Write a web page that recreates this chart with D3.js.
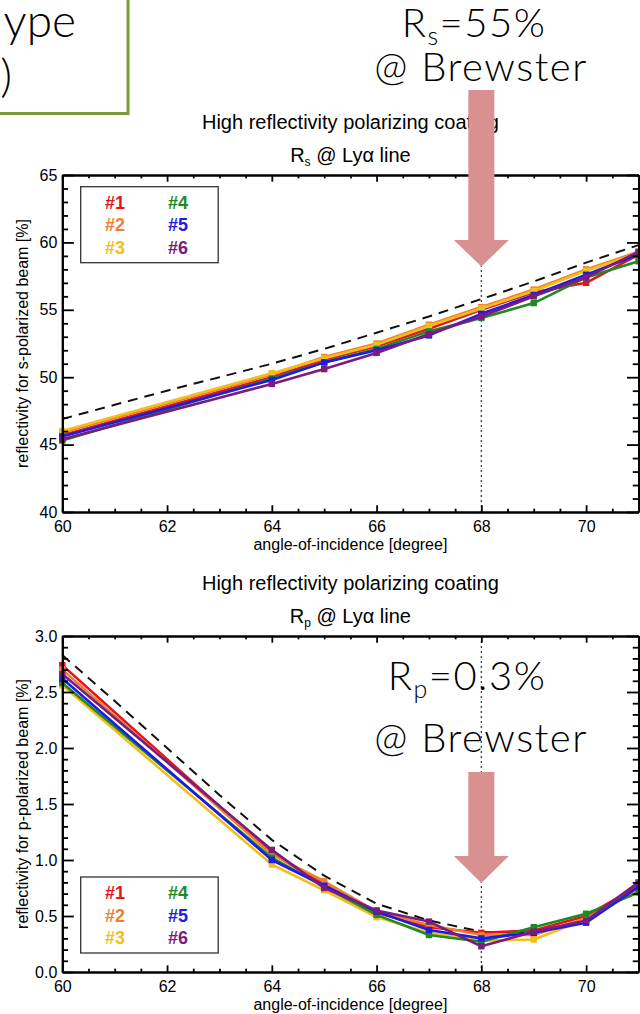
<!DOCTYPE html>
<html><head><meta charset="utf-8">
<script src="https://cdn.jsdelivr.net/npm/d3@7"></script>
<style>
html,body{margin:0;padding:0;background:#fff;}
svg{display:block;}
text{font-family:"Liberation Sans",Arial,Helvetica,sans-serif;}
</style></head>
<body>
<svg id="c" width="640" height="1014"></svg>
<script>
// ---------------- data ----------------
const angles = [60, 64, 65, 66, 67, 68, 69, 70, 71];
const seriesNames = ["#1", "#2", "#3", "#4", "#5", "#6"];
const seriesColors = ["#e3141c", "#ee7f2d", "#f2be1a", "#1f8a24", "#1c1ce6", "#7a1c7e"];
// R_s measured [%]
const rs1 = [45.7, 50.0, 51.3, 52.3, 53.6, 55.0, 56.3, 57.0, 59.1];
const rs2 = [45.9, 50.2, 51.5, 52.5, 53.9, 55.2, 56.5, 58.0, 59.3];
const rs3 = [46.0, 50.3, 51.4, 52.4, 53.8, 55.1, 56.4, 57.9, 59.2];
const rs4 = [45.3, 49.9, 51.1, 52.1, 53.4, 54.4, 55.5, 57.4, 58.6];
const rs5 = [45.6, 49.8, 51.1, 52.0, 53.1, 54.7, 56.1, 57.6, 59.1];
const rs6 = [45.4, 49.5, 50.6, 51.8, 53.2, 54.5, 56.0, 57.4, 59.3];
// R_p measured [%]
const rp1 = [2.74, 1.06, 0.78, 0.53, 0.40, 0.35, 0.37, 0.50, 0.77];
const rp2 = [2.70, 1.05, 0.81, 0.54, 0.42, 0.33, 0.33, 0.48, 0.74];
const rp3 = [2.56, 0.96, 0.73, 0.49, 0.35, 0.28, 0.29, 0.47, 0.73];
const rp4 = [2.58, 1.02, 0.76, 0.51, 0.33, 0.27, 0.40, 0.52, 0.71];
const rp5 = [2.62, 1.00, 0.77, 0.54, 0.375, 0.30, 0.35, 0.44, 0.76];
const rp6 = [2.66, 1.09, 0.75, 0.55, 0.45, 0.23, 0.36, 0.46, 0.80];
// theoretical curves (dashed)
const thAngles = [60, 61, 62, 63, 64, 65, 66, 67, 68, 69, 70, 71];
const rsTheory = [46.9, 47.95, 49.0, 50.0, 51.0, 52.1, 53.3, 54.5, 55.8, 57.1, 58.5, 59.8];
const rpTheory = [2.83, 2.42, 2.0, 1.58, 1.18, 0.86, 0.61, 0.46, 0.36, 0.35, 0.47, 0.78];
// axes
const xDomain = [60, 71];
const xMajor = [60, 62, 64, 66, 68, 70];
const rsDomain = [40, 65];
const rsMajor = [40, 45, 50, 55, 60, 65];
const rpDomain = [0, 3];
const rpMajor = [0, 0.5, 1.0, 1.5, 2.0, 2.5, 3.0];
const brewster = 68;

const svg = d3.select("#c");
const L = 62.3, R = 638.5;

function panel(cfg) {
  const g = svg.append("g");
  const x = d3.scaleLinear().domain(xDomain).range([L, R]);
  const y = d3.scaleLinear().domain(cfg.yDomain).range([cfg.bottom, cfg.top]);
  const H = cfg.bottom - cfg.top, W = R - L;
  const xt = 0.02 * H, yt = 0.02 * W;
  const xMinor = d3.range(xDomain[0], xDomain[1] + 1e-9, 0.5).filter(v => !xMajor.includes(v));
  const yMinor = d3.range(cfg.yDomain[0], cfg.yDomain[1] + 1e-9, cfg.yMinorStep)
      .map(v => +v.toFixed(3)).filter(v => !cfg.yMajor.some(m => Math.abs(m - v) < 1e-6));

  // dotted Brewster line
  g.append("line").attr("x1", x(brewster)).attr("x2", x(brewster))
    .attr("y1", cfg.top).attr("y2", cfg.bottom)
    .attr("stroke", "#333").attr("stroke-width", 1.2).attr("stroke-dasharray", "2,3");

  // theory dashed
  const line = d3.line().x(d => x(d[0])).y(d => y(d[1]));
  g.append("path").datum(thAngles.map((a, i) => [a, cfg.theory[i]]))
    .attr("d", line).attr("fill", "none").attr("stroke", "#111")
    .attr("stroke-width", 2).attr("stroke-dasharray", "10,7");

  // measured series
  cfg.series.forEach((s, k) => {
    const pts = angles.map((a, i) => [a, s[i]]);
    g.append("path").datum(pts).attr("d", line).attr("fill", "none")
      .attr("stroke", seriesColors[k]).attr("stroke-width", 2.6).attr("stroke-linejoin", "round");
    g.selectAll(null).data(pts).enter().append("rect")
      .attr("x", d => x(d[0]) - 3.2).attr("y", d => y(d[1]) - 3.2)
      .attr("width", 6.4).attr("height", 6.4).attr("fill", seriesColors[k]);
  });

  // axes
  const ax = (gen, tr) => g.append("g").attr("transform", tr).call(gen);
  const style = sel => {
    sel.selectAll("path.domain").attr("stroke", "#000").attr("stroke-width", 2);
    sel.selectAll(".tick line").attr("stroke", "#000").attr("stroke-width", 1.8);
    sel.selectAll("text").attr("fill", "#000").style("font-size", "16px")
      .style("font-family", "'Liberation Sans',Arial,sans-serif");
  };
  style(ax(d3.axisBottom(x).tickValues(xMajor).tickSizeInner(-xt).tickSizeOuter(0).tickPadding(9).tickFormat(d3.format("d")), `translate(0,${cfg.bottom})`));
  style(ax(d3.axisBottom(x).tickValues(xMinor).tickSizeInner(-xt / 2).tickSizeOuter(0).tickFormat(""), `translate(0,${cfg.bottom})`));
  style(ax(d3.axisTop(x).tickValues(xMajor).tickSizeInner(-xt).tickSizeOuter(0).tickFormat(""), `translate(0,${cfg.top})`));
  style(ax(d3.axisTop(x).tickValues(xMinor).tickSizeInner(-xt / 2).tickSizeOuter(0).tickFormat(""), `translate(0,${cfg.top})`));
  style(ax(d3.axisLeft(y).tickValues(cfg.yMajor).tickSizeInner(-yt).tickSizeOuter(0).tickPadding(5).tickFormat(cfg.yFormat), `translate(${L},0)`));
  style(ax(d3.axisLeft(y).tickValues(yMinor).tickSizeInner(-yt / 2).tickSizeOuter(0).tickFormat(""), `translate(${L},0)`));
  style(ax(d3.axisRight(y).tickValues(cfg.yMajor).tickSizeInner(-yt).tickSizeOuter(0).tickFormat(""), `translate(${R},0)`));
  style(ax(d3.axisRight(y).tickValues(yMinor).tickSizeInner(-yt / 2).tickSizeOuter(0).tickFormat(""), `translate(${R},0)`));

  // titles
  const cx = (L + R) / 2;
  g.append("text").attr("x", cx).attr("y", cfg.top - 46).attr("text-anchor", "middle")
    .style("font-size", "20px").text("High reflectivity polarizing coating");
  const t2 = g.append("text").attr("x", cx).attr("y", cfg.top - 13).attr("text-anchor", "middle")
    .style("font-size", "20px");
  t2.append("tspan").text("R");
  t2.append("tspan").attr("dy", 4).style("font-size", "12px").text(cfg.sub);
  t2.append("tspan").attr("dy", -4).text(" @ Ly\u03b1 line");

  g.append("text").attr("x", cx).attr("y", cfg.bottom + 38).attr("text-anchor", "middle")
    .style("font-size", "16px").text("angle-of-incidence [degree]");
  g.append("text").attr("transform", `translate(28,${(cfg.top + cfg.bottom) / 2}) rotate(-90)`)
    .attr("text-anchor", "middle").style("font-size", "16px").text(cfg.ylabel);

  // legend
  const lg = g.append("g");
  lg.append("rect").attr("x", 80.7).attr("y", cfg.legTop).attr("width", 137.5).attr("height", 76)
    .attr("fill", "#fff").attr("stroke", "#333").attr("stroke-width", 1.3);
  seriesNames.forEach((n, k) => {
    const col = Math.floor(k / 3), row = k % 3;
    lg.append("text").attr("x", 115 + col * 63).attr("y", cfg.legTop + 22 + row * 22.5)
      .attr("text-anchor", "middle")
      .style("font-family", "'Liberation Sans Narrow','Arial Narrow','Liberation Sans',sans-serif")
      .style("font-weight", "bold").style("font-size", "18px")
      .attr("fill", seriesColors[k]).text(n);
  });
  return {x, y};
}

const topPanel = panel({
  top: 175, bottom: 512, yDomain: rsDomain, yMajor: rsMajor, yMinorStep: 1,
  yFormat: d3.format("d"), theory: rsTheory, series: [rs1, rs2, rs3, rs4, rs5, rs6],
  sub: "s", ylabel: "reflectivity for s-polarized beam  [%]", legTop: 186.7
});
const botPanel = panel({
  top: 636, bottom: 972, yDomain: rpDomain, yMajor: rpMajor, yMinorStep: 0.1,
  yFormat: d3.format(".1f"), theory: rpTheory, series: [rp1, rp2, rp3, rp4, rp5, rp6],
  sub: "p", ylabel: "reflectivity for p-polarized beam  [%]", legTop: 877
});

// ---------------- annotations ----------------
const ann = svg.append("g");
const aFont = "Lato, 'Open Sans', sans-serif";
// green box (clipped at left)
ann.append("rect").attr("x", -10).attr("y", -10).attr("width", 138).attr("height", 123.5)
  .attr("fill", "#fff").attr("stroke", "#7d9a3a").attr("stroke-width", 3);
ann.append("text").attr("x", 76).attr("y", 37).attr("text-anchor", "end")
  .style("font-family", aFont).style("font-weight", 300).style("font-size", "46px").text("ype");
ann.append("text").attr("x", 12).attr("y", 92).attr("text-anchor", "end")
  .style("font-family", aFont).style("font-weight", 300).style("font-size", "46px").text(")");

function arrow(cx, y0, yHead, yTip) {
  const pts = [[cx - 13, y0], [cx + 13, y0], [cx + 13, yHead], [cx + 27.5, yHead], [cx, yTip],
               [cx - 27.5, yHead], [cx - 13, yHead]];
  ann.append("polygon").attr("points", pts.map(p => p.join(",")).join(" "))
    .attr("fill", "#d99090");
}
arrow(topPanel.x(brewster), 90, 240, 266.5);
arrow(botPanel.x(brewster), 772, 856, 883);

function label(cx1, cx2, y1, y2, sub, val) {
  const t = ann.append("text").attr("x", cx1).attr("y", y1).attr("text-anchor", "middle")
    .style("font-family", aFont).style("font-weight", 300).style("font-size", "40px")
    .style("letter-spacing", "1.5px");
  t.append("tspan").text("R");
  t.append("tspan").attr("dy", 8).style("font-size", "25px").text(sub);
  t.append("tspan").attr("dy", -8).text("=" + val);
  ann.append("text").attr("x", cx2).attr("y", y2).attr("text-anchor", "middle")
    .style("font-family", aFont).style("font-weight", 300).style("font-size", "40px")
    .style("letter-spacing", "1.5px").text("@ Brewster");
}
label(474, 481, 37, 81, "s", "55%");
label(467, 481, 690, 752, "p", "0.3%");
</script>
</body></html>
